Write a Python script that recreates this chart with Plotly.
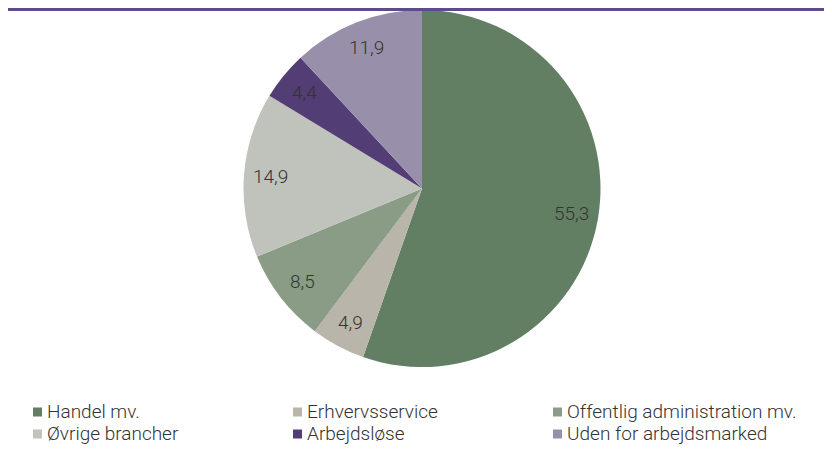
import math
import plotly.graph_objects as go

categories = ["Handel mv.", "Erhvervsservice", "Offentlig administration mv.",
              "Øvrige brancher", "Arbejdsløse", "Uden for arbejdsmarked"]
values = [55.3, 4.9, 8.5, 14.9, 4.4, 11.9]
colors = ["#627f63", "#b9b5aa", "#8a9c86", "#c0c2bc", "#523d74", "#9890ab"]
value_labels = [f"{v:.1f}".replace(".", ",") for v in values]

# page is rendered with an 8px body margin -> figure coords = page coords - 8
OFF = 8
W, H = 832 - 2 * OFF, 452 - 2 * OFF
FONT = "Roboto"
TXT = "#333333"
WEIGHT = 300

# pie geometry (figure px)
CX, CY, R = 422 - OFF, 188.5 - OFF, 178.5
LABEL_R = 0.85

fig = go.Figure()
fig.add_trace(go.Pie(
    labels=categories, values=values, sort=False, direction="clockwise", rotation=0,
    marker=dict(colors=colors, line=dict(width=0)),
    textinfo="none",
    domain=dict(x=[(CX - R) / W, (CX + R) / W], y=[(H - (CY + R)) / H, (H - (CY - R)) / H]),
    showlegend=False, hoverinfo="label+value",
))

# value labels at the slice mid-angle
total = sum(values)
cum = 0.0
for v, lab in zip(values, value_labels):
    mid = (cum + v / 2) / total * 2 * math.pi
    cum += v
    px = CX + LABEL_R * R * math.sin(mid)
    py = CY - LABEL_R * R * math.cos(mid)
    fig.add_annotation(xref="paper", yref="paper", x=px / W, y=(H - py) / H,
                       text=lab, showarrow=False, xanchor="center", yanchor="middle",
                       font=dict(family=FONT, size=19, color=TXT, weight=WEIGHT))

# top rule
ly = 9.5 - OFF
fig.add_shape(type="line", xref="paper", yref="paper", x0=0, x1=1, y0=(H - ly) / H, y1=(H - ly) / H,
              line=dict(color="#5f4b8b", width=3))

# legend (3 columns x 2 rows)
col_x = [33 - OFF, 293 - OFF, 553 - OFF]
row_y = [412 - OFF, 434 - OFF]
for i, (cat, col) in enumerate(zip(categories, colors)):
    cx = col_x[i % 3]
    cy = row_y[i // 3]
    fig.add_shape(type="rect", xref="paper", yref="paper",
                  x0=cx / W, x1=(cx + 9) / W, y0=(H - cy - 4.5) / H, y1=(H - cy + 4.5) / H,
                  fillcolor=col, line=dict(width=0))
    fig.add_annotation(xref="paper", yref="paper", x=(cx + 12) / W, y=(H - cy + 1) / H,
                       text=cat, showarrow=False, xanchor="left", yanchor="middle",
                       font=dict(family=FONT, size=19, color=TXT, weight=WEIGHT))

fig.update_layout(width=W, height=H, margin=dict(l=0, r=0, t=0, b=0),
                  paper_bgcolor="white", plot_bgcolor="white",
                  font=dict(family=FONT, size=19, color=TXT, weight=WEIGHT))
fig.write_html("out.html")
